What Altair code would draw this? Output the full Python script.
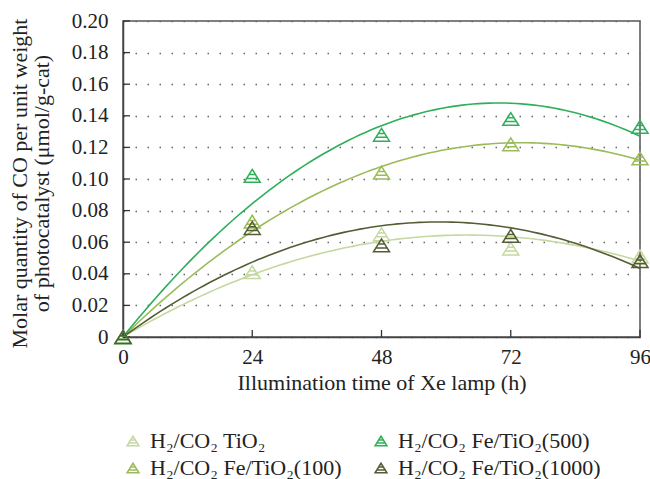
import altair as alt
import numpy as np
import pandas as pd

hours = [0, 24, 48, 72, 96]
series = ["H₂/CO₂ TiO₂", "H₂/CO₂ Fe/TiO₂(100)", "H₂/CO₂ Fe/TiO₂(500)", "H₂/CO₂ Fe/TiO₂(1000)"]
tio2 = [0, 0.041, 0.065, 0.056, 0.051]
fe100 = [0, 0.073, 0.104, 0.122, 0.113]
fe500 = [0, 0.102, 0.128, 0.138, 0.133]
fe1000 = [0, 0.069, 0.058, 0.064, 0.048]
colors = ["#c4d8a0", "#9bbb59", "#2eaf5a", "#545c36"]
y_ticks = [0, 0.02, 0.04, 0.06, 0.08, 0.10, 0.12, 0.14, 0.16, 0.18, 0.20]

values = [tio2, fe100, fe500, fe1000]
rows = []
for name, vals in zip(series, values):
    for h, v in zip(hours, vals):
        rows.append({"h": h, "v": v, "s": name})
pts = pd.DataFrame(rows)

# second-order polynomial trendline through the origin (least squares)
curve_rows = []
xs = np.arange(0, 97, 1.0)
for name, vals in zip(series, values):
    x = np.array(hours, float)
    A = np.column_stack([x, x ** 2])
    coef, *_ = np.linalg.lstsq(A, np.array(vals), rcond=None)
    for xv in xs:
        curve_rows.append({"h": xv, "v": coef[0] * xv + coef[1] * xv ** 2, "s": name})
curve = pd.DataFrame(curve_rows)

xticks_df = pd.DataFrame({"h": hours})
yticks_df = pd.DataFrame({"v": y_ticks})

tri = "M0,-0.8L1,0.8L-1,0.8Z M-0.4,-0.16L0.4,-0.16 M-0.7,0.32L0.7,0.32"
FONT = "Liberation Serif"

xs_scale = alt.Scale(domain=[0, 96], nice=False)
ys_scale = alt.Scale(domain=[0, 0.2], nice=False)

x_axis = alt.Axis(values=hours, title="Illumination time of Xe lamp (h)", grid=False,
                  ticks=False, labelPadding=9, labelOverlap=False,
                  domainColor="#444", domainWidth=1.5, labelFont=FONT, labelFontSize=21,
                  labelColor="#222", titleFont=FONT, titleFontSize=22, titleFontWeight="normal",
                  titleColor="#222", titlePadding=5, labelFlush=False)
y_axis = alt.Axis(values=y_ticks, title=["Molar quantity of CO per unit weight", "of photocatalyst (μmol/g-cat)"],
                  labelExpr="datum.value == 0 ? '0' : format(datum.value, '.2f')",
                  labelOverlap=False,
                  grid=True, gridDash=[1.5, 10.5], gridColor="#666", gridWidth=1.3,
                  ticks=False, labelPadding=15,
                  domainColor="#444", domainWidth=1.5, labelFont=FONT, labelFontSize=21,
                  labelColor="#222", titleFont=FONT, titleFontSize=22, titleFontWeight="normal",
                  titleColor="#222", titleAngle=270, titleX=-104, titleY=162,
                  titleAlign="center", titleBaseline="middle", titleLineHeight=22)

X = alt.X("h:Q", scale=xs_scale, axis=x_axis)
Y = alt.Y("v:Q", scale=ys_scale, axis=y_axis)

lines = alt.Chart(curve).mark_line(strokeWidth=1.6, clip=True).encode(
    x=X, y=Y,
    color=alt.Color("s:N", scale=alt.Scale(domain=series, range=colors), legend=None),
    detail="s:N",
)

xticks = alt.Chart(xticks_df).mark_rule(color="#333", strokeWidth=1.3).encode(
    x=X, y=alt.value(316), y2=alt.value(309),
)
yticks = alt.Chart(yticks_df).mark_rule(color="#333", strokeWidth=1.3).encode(
    y=Y, x=alt.value(0), x2=alt.value(7),
)

points = alt.Chart(pts).mark_point(shape=tri, filled=False, size=256, strokeWidth=1.5, opacity=1).encode(
    x=X, y=Y,
    color=alt.Color("s:N", scale=alt.Scale(domain=series, range=colors), sort=series,
                    legend=alt.Legend(title=None, orient="none", legendX=-1, legendY=409,
                                      columns=2, columnPadding=28, rowPadding=5,
                                      symbolType=tri, symbolSize=140, symbolStrokeWidth=1.5,
                                      symbolFillColor="transparent",
                                      labelFont=FONT, labelFontSize=22, labelColor="#222",
                                      labelOffset=6, labelLimit=400)),
)

chart = alt.layer(lines, xticks, yticks, points).resolve_scale(color="independent").properties(
    width=517, height=316,
    padding={"left": 123, "top": 21, "right": 10, "bottom": 142},
    autosize=alt.AutoSizeParams(type="none"),
).configure(background="white", font=FONT).configure_view(
    stroke="#555", strokeWidth=1.5
).configure_axis(labelFont=FONT, titleFont=FONT).configure_legend(labelFont=FONT)

chart.save("out.html", embed_options={"renderer": "svg", "actions": False})
